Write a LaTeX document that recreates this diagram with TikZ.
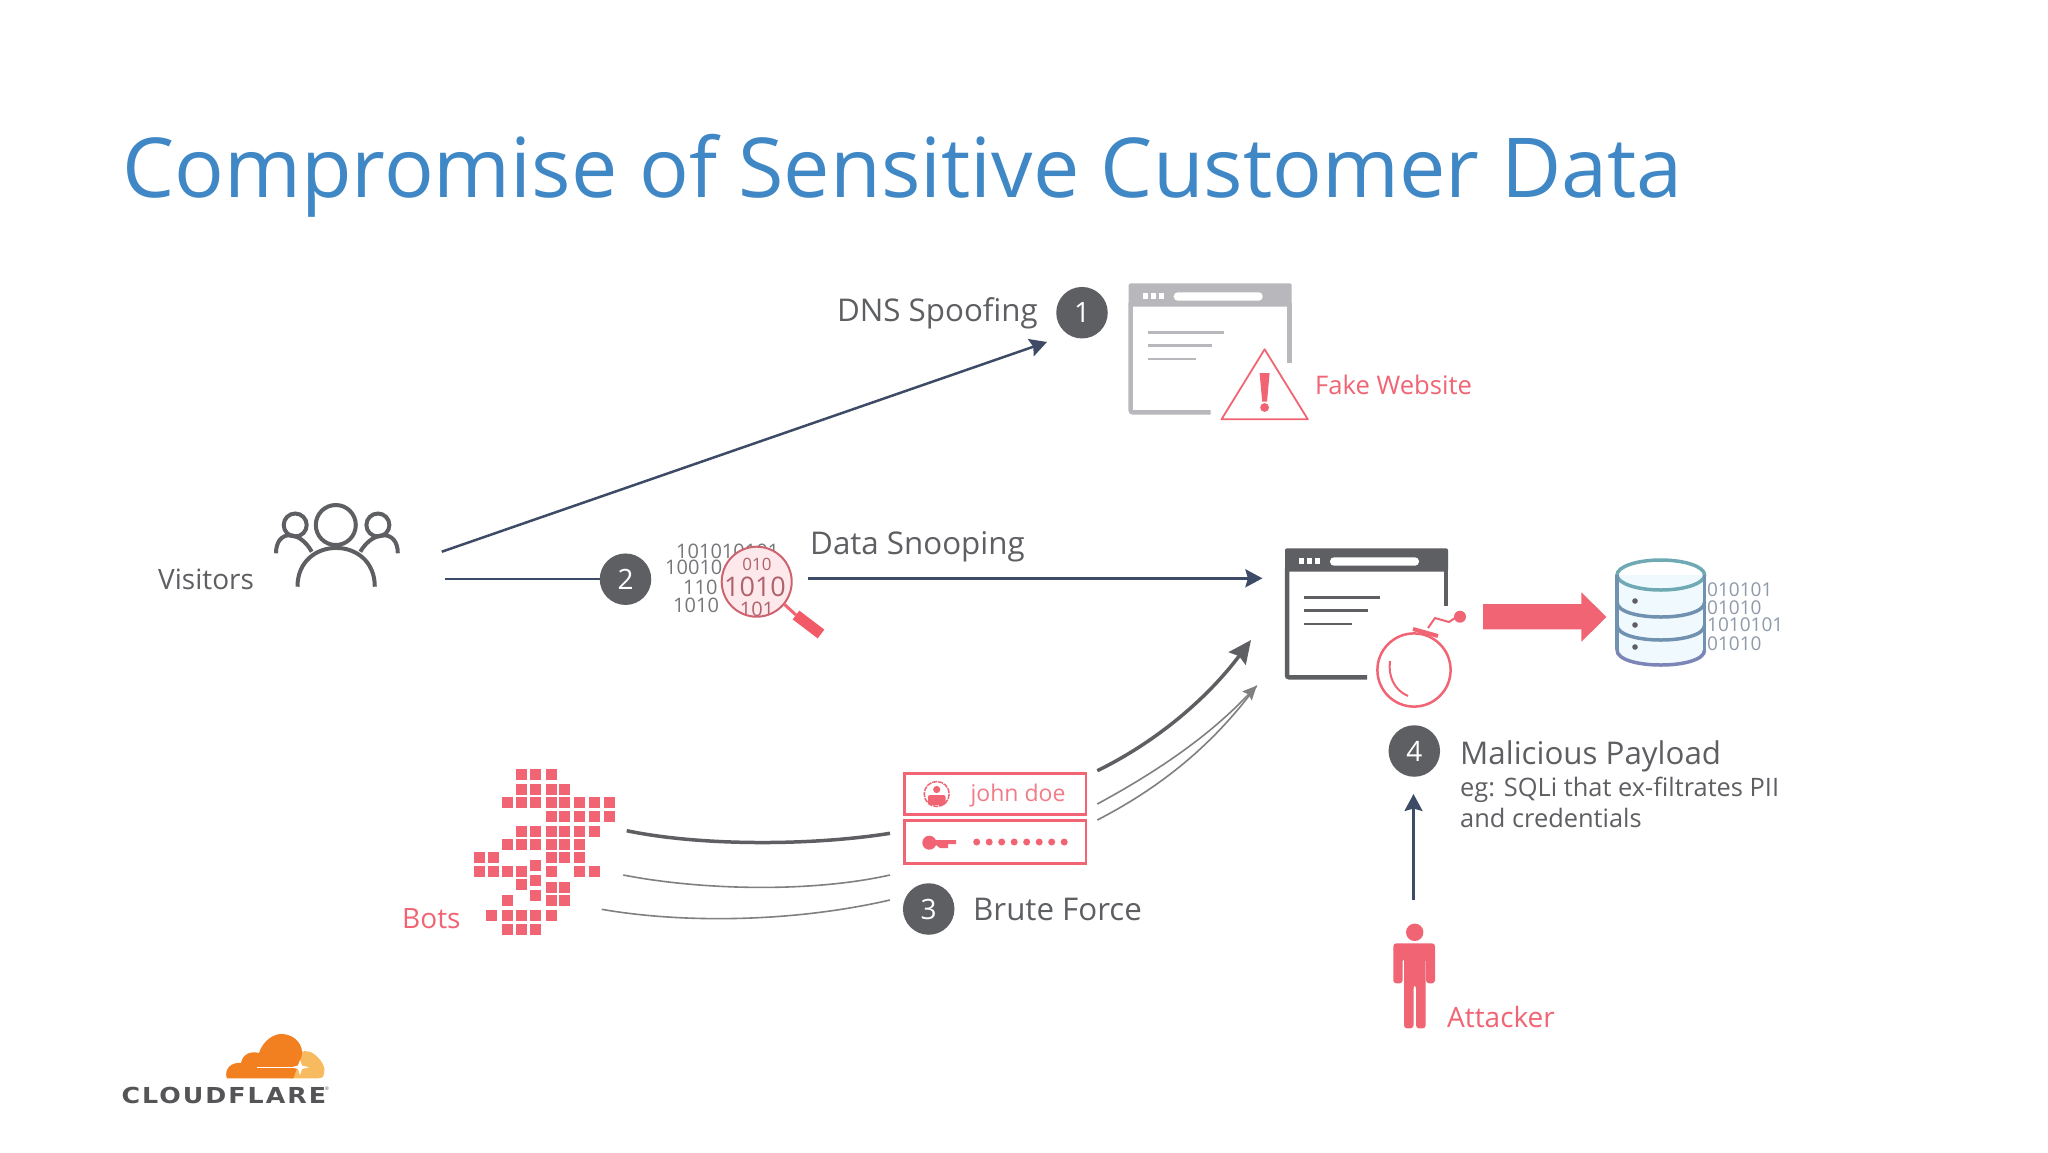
\documentclass[tikz,border=0pt]{standalone}
\usepackage{fontspec}
\setmainfont{Open Sans}
\newfontfamily\logofont[FakeStretch=1.15,LetterSpace=9]{DejaVu Sans}
\usetikzlibrary{arrows.meta,positioning}
\definecolor{inkgray}{HTML}{5E5F62}
\definecolor{fakegray}{HTML}{B8B8BC}
\definecolor{alert}{HTML}{F16473}
\definecolor{navy}{HTML}{3D4B66}
\definecolor{heading}{HTML}{3F87C5}
\definecolor{bingray}{HTML}{8E9AAA}
\definecolor{cfdark}{HTML}{F38020}
\definecolor{cflight}{HTML}{F7BA5E}
\definecolor{dbtop}{HTML}{6FA9B4}
\definecolor{dbmid}{HTML}{7191B0}
\definecolor{dblow}{HTML}{7C85B8}
\tikzset{
	pics/browser/.style args={#1/#2}{code={
		\fill[#1, rounded corners=2pt] (0,0) rectangle (163,23.4);
		\draw[#1, line width=4.5pt] (161,20) -- (161,#2);
		\draw[#1, line width=4.5pt, rounded corners=2pt] (2,20) -- (2,129) -- (82,129);
		\foreach \dx in {14,22,30} \fill[white] (\dx,10) rectangle +(5,6);
		\fill[white, rounded corners=4pt] (45,9) rectangle (134,17.4);
		\draw[#1, line width=2.5pt] (19,49) -- (95,49);
		\draw[#1, line width=2.5pt] (19,62.4) -- (83,62.4);
		\draw[#1, line width=2.5pt] (19,75.7) -- (67,75.7);
	}}
}
\begin{document}
\begin{tikzpicture}[x=1pt,y=-1pt,>={Stealth[length=17pt,width=18pt,inset=2.5pt]},
	num/.style={shape=circle, fill=inkgray, text=white, minimum size=51.5pt, inner sep=0pt, font=\fontsize{28}{32}\selectfont},
	lab/.style={anchor=base west, inner sep=0pt, text=inkgray, font=\fontsize{31.3}{38}\selectfont},
	small/.style={lab, font=\fontsize{25.4}{32}\selectfont},
	warn/.style={lab, text=alert, font=\fontsize{28}{32}\selectfont},
	bin/.style={inner sep=0pt, text=inkgray!85, font=\fontsize{20}{24}\selectfont},
	dbbin/.style={anchor=west, inner sep=0pt, text=bingray, font=\fontsize{19}{22}\selectfont},
	flow/.style={->, navy, line width=2.5pt},
	grain/.style={gray, line width=1.6pt},
	pinkline/.style={draw=alert, line width=2.5pt}]
	\useasboundingbox (0,0) rectangle (2048,1152);
	\fill[white] (0,0) rectangle (2048,1152);

	\node[lab, text=heading, font=\fontsize{82.7}{96}\selectfont] (title) at (122,197) {Compromise of Sensitive Customer Data};

	% visitors
	\begin{scope}[draw=inkgray, line width=4pt]
		\draw (335.8,525) circle[radius=20];
		\draw (295.2,525) circle[radius=11.5];
		\draw (377.9,525) circle[radius=11.5];
		\draw (297.5,586.7) .. controls (297.5,535) and (374.8,535) .. (374.8,586.7);
		\draw (276,553.3) .. controls (276,529) and (300,530) .. (311.7,551.7);
		\draw (397.8,553.3) .. controls (397.8,529) and (373,530) .. (360.3,551.7);
	\end{scope}
	\node[lab, font=\fontsize{28}{32}\selectfont] (visitors) at (158,589) {Visitors};

	% numbered markers
	\node[num] (1) at (1082,312.7) {1};
	\node[num] (2) at (625.5,579.2) {2};
	\node[num] (3) at (928.7,909) {3};
	\node[num] (4) at (1414.3,751) {4};

	\node[lab, anchor=base east] (dns) at (1038,321) {DNS Spoofing};
	\node[lab] (snoop) at (810,554.5) {Data Snooping};
	\node[lab] (brute) at (973,920) {Brute Force};
	\node[lab] (payload) at (1460,764) {Malicious Payload};
	\node[small] (sqli) at (1460,796.5) {eg: SQLi that ex-filtrates PII};
	\node[small] (creds) at (1460,827) {and credentials};
	\node[warn, font=\fontsize{25.6}{30}\selectfont] (fake) at (1315,394) {Fake Website};
	\node[warn] (bots) at (402,928) {Bots};
	\node[warn] (attacker) at (1447,1027) {Attacker};

	% fake website
	\pic at (1128.7,283.3) {browser={fakegray/80}};
	\draw[alert, line width=1.8pt, line join=round] (1264.6,349.3) -- (1221.5,419.3) -- (1307.8,419.3) -- cycle;
	\fill[alert] (1259.6,373) -- (1269.6,373) -- (1267,401.7) -- (1262.2,401.7) -- cycle;
	\fill[alert] (1264.6,407.5) circle[radius=4.4];

	% snooped data
	\node[bin, anchor=west] (b1) at (676,551) {101010101};
	\node[bin, anchor=west] (b2) at (665,567.5) {10010};
	\node[bin, anchor=west] (b3) at (683,587) {110};
	\node[bin, anchor=west] (b4) at (673,605) {1010};
	\begin{scope}
		\clip (756.7,581.7) circle[radius=35];
		\fill[alert!14] (756.7,581.7) circle[radius=35];
		\node[bin, text=alert!55!inkgray, font=\fontsize{17}{20}\selectfont] (l1) at (757,564) {010};
		\node[bin, text=alert!55!inkgray, font=\fontsize{27}{30}\selectfont] (l2) at (755,587) {1010};
		\node[bin, text=alert!55!inkgray] (l3) at (757,609) {101};
	\end{scope}
	\draw[alert!75!inkgray, line width=2pt] (756.7,581.7) circle[radius=35];
	\draw[alert, line width=3pt] (784,604) -- (796,615);
	\draw[alert!90!red, line width=11pt] (796,615) -- (821,634);

	% compromised site
	\pic at (1285,548.3) {browser={inkgray/58}};
	\draw[pinkline] (1414,670) circle[radius=36.6];
	\draw[pinkline, line width=4pt] (1413,629) -- (1438,636);
	\draw[pinkline, line width=2pt] (1390,661) .. controls (1388,676) and (1394,690) .. (1408,696);
	\draw[pinkline, line width=2pt] (1428,628) -- (1435,618) -- (1449,622) -- (1455,618);
	\fill[alert] (1460,616.7) circle[radius=6];
	\fill[alert] (1483.2,604) -- (1581.4,604) -- (1581.4,592.3) -- (1606.4,617) -- (1581.4,641.7) -- (1581.4,629.3) -- (1483.2,629.3) -- cycle;

	% database
	\fill[cyan!6] (1617,575) -- (1617,650) .. controls +(0,20) and +(0,20) .. (1704.6,650) -- (1704.6,575) -- cycle;
	\draw[draw=dbtop, line width=3.5pt] (1660.8,575) ellipse[x radius=43.8, y radius=15];
	\foreach \y/\c in {602/dbmid, 625/dbmid, 650/dblow}
		\draw[draw=\c, line width=3.5pt] (1617,\y) .. controls +(0,20) and +(0,20) .. (1704.6,\y);
	\draw[dbmid, line width=3.5pt] (1617,575) -- (1617,650) (1704.6,575) -- (1704.6,650);
	\foreach \y in {601,625,647}
		\fill[inkgray] (1635,\y) circle[radius=2.8];
	\node[dbbin] (d1) at (1707,590) {010101};
	\node[dbbin] (d2) at (1707,607.3) {01010};
	\node[dbbin] (d3) at (1707,625) {1010101};
	\node[dbbin] (d4) at (1707,643.3) {01010};

	% bots
	\foreach \y/\xs in {774/{521,535,551}, 789/{521,535,551,564}, 802/{507,521,535,551,564,579,594,609},
			816/{551,564,579,594,609}, 831/{521,535,551,564,579,594}, 844/{507,521,535,551,564,579},
			857/{479,493,551,564,579}, 871/{479,493,507,521,551,579,594}, 865/{535}, 880/{535}, 895/{535},
			884/{521}, 887/{551,564}, 900/{507,551,564}, 915/{491,507,521,535,551}, 929/{507,521,535}}
		\foreach \x in \xs
			\fill[alert] (\x-5.5,\y-5.5) rectangle +(11.6,11.6);

	% credentials
	\draw[pinkline] (904.3,773.3) rectangle (1086,814.3);
	\draw[pinkline] (904.3,820.7) rectangle (1086,863.3);
	\draw[alert, line width=1.5pt, dash pattern=on 5pt off 1pt] (936.7,794) circle[radius=12.5];
	\fill[alert] (936.7,789.5) circle[radius=3.6];
	\fill[alert, rounded corners=2pt] (928,795) rectangle (945.5,805);
	\node[inner sep=0pt, text=alert!85, font=\fontsize{23}{28}\selectfont] (john) at (1018,796) {john doe};
	\fill[alert] (929.3,842.7) circle[radius=7];
	\fill[alert] (930,840) -- (956,840) -- (956,844) -- (948,844) -- (948,848) -- (940,848) -- (936,845) -- (930,845) -- cycle;
	\foreach \x in {976.7,989.2,...,1065}
		\fill[alert] (\x,842) circle[radius=3.5];

	% attacker
	\fill[alert] (1414.7,932.3) circle[radius=8.7];
	\fill[alert, rounded corners=3pt] (1393.3,983.3) -- (1393.3,943.3) -- (1435,943.3) -- (1435,983.3) -- (1426,983.3) -- (1426,958) -- (1425.7,958) -- (1425.7,1028.3) -- (1416,1028.3) -- (1416,985) -- (1413.5,985) -- (1413.5,1028.3) -- (1404,1028.3) -- (1404,958) -- (1402.6,958) -- (1402.6,983.3) -- cycle;

	% connector ends
	\coordinate (v1) at (441.8,551.7);
	\coordinate (v2) at (444.5,579.2);
	\coordinate (t1) at (1047,342);
	\coordinate (s1) at (808,578.3);
	\coordinate (t2) at (1262.4,578.3);
	\coordinate (a1) at (1413.5,900);
	\coordinate (t4) at (1413.5,794);
	\coordinate (g1) at (626.7,830.7);
	\coordinate (g2) at (890,833.3);
	\coordinate (g3) at (623.3,875);
	\coordinate (g4) at (890,875);
	\coordinate (g5) at (601.7,909.3);
	\coordinate (g6) at (890,900);
	\coordinate (h1) at (1097.3,770.7);
	\coordinate (h2) at (1251,640);
	\coordinate (h3) at (1097.3,804);
	\coordinate (h4) at (1097.3,820);
	\coordinate (h5) at (1256.7,685.7);

	\path
	(v1) edge[flow] (t1)
	(v2) edge[navy, line width=2.5pt] (2)
	(s1) edge[flow] (t2)
	(a1) edge[flow] (t4);

	\draw[inkgray, line width=3.5pt] (g1) .. controls (700,846) and (810,846) .. (g2);
	\draw[grain] (g3) .. controls (700,890) and (810,893) .. (g4);
	\draw[grain] (g5) .. controls (680,923) and (790,923) .. (g6);
	\draw[inkgray, line width=3.5pt, -{Stealth[length=23pt,width=21pt,inset=3pt]}] (h1) .. controls (1160,740) and (1210,695) .. (h2);
	\draw[grain, -{Stealth[length=14pt,width=13pt,inset=2pt]}] (h3) .. controls (1160,770) and (1210,735) .. (h5);
	\draw[grain] (h4) .. controls (1165,785) and (1215,742) .. (h5);

	% logo
	\fill[cflight] (296,1055) .. controls (300,1050) and (310,1050) .. (314,1054) .. controls (322,1060) and (326,1068) .. (324,1074) .. controls (323,1078) and (321,1078.3) .. (318,1078.3) -- (290,1078.3) -- cycle;
	\fill[cfdark] (226.7,1078.3) .. controls (224,1068) and (232,1062) .. (241,1063) .. controls (243,1053) and (252,1051) .. (259,1053) .. controls (263,1040) and (275,1033) .. (283,1034) .. controls (295,1035) and (304,1045) .. (301.7,1056) -- (293.3,1078.3) -- cycle;
	\draw[white, line width=1.5pt] (257,1067.3) -- (298,1067.3);
	\fill[white] (300,1060) -- (302,1065.5) -- (309,1067.3) -- (302,1069) -- (300,1075) -- (298,1069) -- (291,1067.3) -- (298,1065.5) -- cycle;
	\node[inner sep=0pt, anchor=base west, text=inkgray!90!black, font=\logofont\bfseries\fontsize{22}{26}\selectfont] (logo) at (121.5,1103.3) {CLOUDFLARE};
	\node[inner sep=0pt, text=inkgray, font=\fontsize{5}{6}\selectfont] (reg) at (327,1089) {®};
\end{tikzpicture}
\end{document}
